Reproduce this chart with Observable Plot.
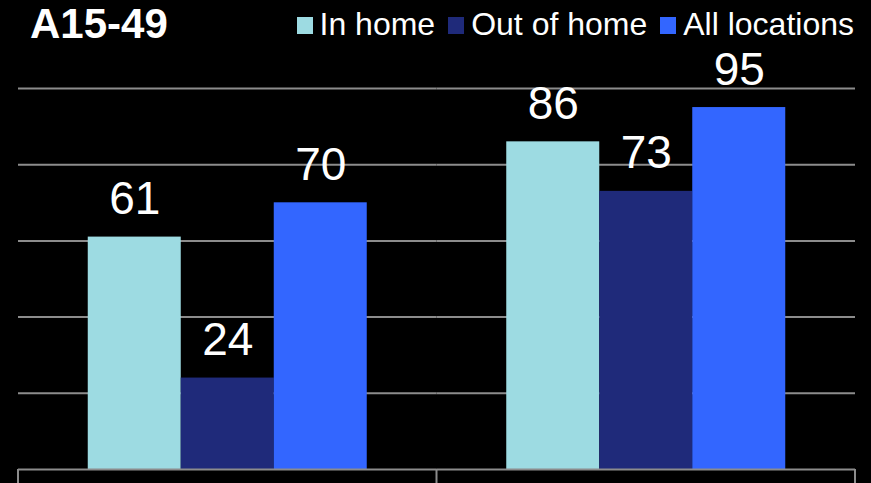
<!DOCTYPE html>
<html><head><meta charset="utf-8">
<script src="https://cdn.jsdelivr.net/npm/d3@7"></script>
<script src="https://cdn.jsdelivr.net/npm/@observablehq/plot@0.6"></script>
<style>
html,body{margin:0;padding:0;background:#000;}
#wrap{position:relative;width:871px;height:483px;overflow:hidden;background:#000;font-family:"Liberation Sans",Arial,sans-serif;}
#chart{position:absolute;left:0;top:0;}
#title{position:absolute;left:30px;top:3px;font-size:42px;font-weight:bold;color:#fff;line-height:1;white-space:nowrap;}
#legend{position:absolute;right:17px;top:8px;display:flex;gap:13px;font-size:32px;line-height:1;color:#fff;white-space:nowrap;}
.item{display:flex;align-items:baseline;}
.sw{display:inline-block;width:16px;height:17px;margin-right:7px;position:relative;top:-1px;}
</style></head><body>
<div id="wrap"><div id="chart"></div><div id="title">A15-49</div><div id="legend"></div></div>
<script>
const groups = ["Group 1", "Group 2"];
const series = ["In home", "Out of home", "All locations"];
const colors = ["#9ddbe2", "#1f2a7a", "#3366ff"];
const inHome = [61, 86];
const outOfHome = [24, 73];
const allLocations = [70, 95];
const yTicks = [0, 20, 40, 60, 80, 100];

const values = [inHome, outOfHome, allLocations];
const data = groups.flatMap((g, i) => series.map((s, j) => ({group: g, series: s, value: values[j][i]})));

const grid = "#8c8c8c";
const chart = Plot.plot({
  width: 871, height: 483,
  marginLeft: 18, marginRight: 16, marginTop: 88, marginBottom: 14,
  style: {background: "#000", color: "#fff"},
  fx: {domain: groups, padding: 0, round: false, axis: null},
  x: {domain: series, paddingInner: 0, paddingOuter: 0.75, round: false, axis: null},
  y: {domain: [0, 100], axis: null},
  color: {domain: series, range: colors},
  marks: [
    Plot.ruleY(yTicks.slice(1), {stroke: grid, strokeWidth: 2}),
    Plot.barY(data, {fx: "group", x: "series", y: "value", fill: "series"}),
    Plot.ruleY([0], {stroke: grid, strokeWidth: 2}),
    Plot.text(data, {fx: "group", x: "series", y: "value", text: d => String(d.value),
      dy: -23, lineAnchor: "bottom", fill: "#fff", fontSize: 46,
      fontFamily: "Liberation Sans, Arial, sans-serif"})
  ]
});

// category boundary ticks below the axis, from the library's scales
const fx = chart.scale("fx"), ys = chart.scale("y");
const y0 = ys.apply(0);
const edges = groups.map(g => fx.apply(g));
edges.push(fx.apply(groups[groups.length - 1]) + fx.bandwidth);
d3.select(chart).append("g")
  .selectAll("line").data(edges).join("line")
  .attr("x1", d => d).attr("x2", d => d)
  .attr("y1", y0).attr("y2", 483)
  .attr("stroke", grid).attr("stroke-width", 2);

document.getElementById("chart").appendChild(chart);

const legend = document.getElementById("legend");
series.forEach((s, i) => {
  const item = document.createElement("div");
  item.className = "item";
  const sw = document.createElement("span");
  sw.className = "sw";
  sw.style.background = colors[i];
  const t = document.createElement("span");
  t.textContent = s;
  item.appendChild(sw); item.appendChild(t);
  legend.appendChild(item);
});
</script>
</body></html>
